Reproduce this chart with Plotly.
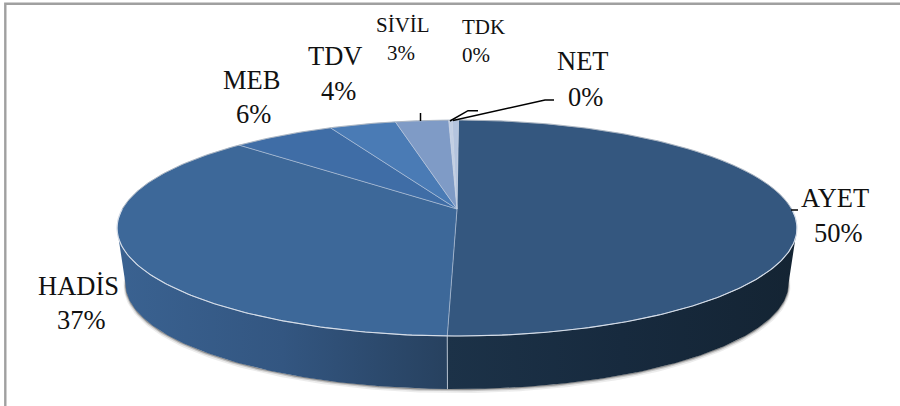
import numpy as np
import plotly.graph_objects as go

categories = ["AYET", "HADİS", "MEB", "TDV", "SİVİL", "TDK", "NET"]
values = [50.3, 36.6, 5.8, 3.75, 3.0, 0.2, 0.35]
pct_labels = ["50%", "37%", "6%", "4%", "3%", "0%", "0%"]

top_colors = ["#34577F", "#3D6899", "#3F6DA6", "#4A7BB5", "#7F9BC6", "#C2CFE4", "#B4C4DE"]

# projection of the 3D pie
CX, CY = 457.0, 209.0
A, B, P = 334.7, 104.7, 0.176
ROT = 0.3
DEPTH, BOTTOM_SCALE = 56.2, 0.975
TANGENT = np.degrees(np.arccos(-P))


def project(theta, scale=1.0, dy=0.0):
    t = np.radians(theta)
    den = 1 + P * np.cos(t)
    return CX + scale * A * np.sin(t) / den, CY + dy - scale * B * np.cos(t) / den


edges = ROT + np.concatenate([[0], np.cumsum(values)]) * 3.6

fig = go.Figure()


def poly(x, y, color=None, line=None, width=0, gradient=None):
    kw = {}
    if gradient:
        kw["fillgradient"] = dict(type="horizontal", colorscale=gradient)
    else:
        kw["fillcolor"] = color
    fig.add_trace(go.Scatter(
        x=x, y=y, mode="lines", fill="toself" if (color or gradient) else "none",
        line=dict(color=line or "rgba(0,0,0,0)", width=width),
        hoverinfo="skip", showlegend=False, **kw))


def side(a0, a1):
    th = np.linspace(a0, a1, 120)
    x0, y0 = project(th)
    x1, y1 = project(th[::-1], BOTTOM_SCALE, DEPTH)
    return np.concatenate([x0, x1]), np.concatenate([y0, y1])


# soft shadow under the side wall
th_sh = np.linspace(TANGENT - 8, 360 - TANGENT + 8, 240)
for off, w, alpha in [(2.0, 4, 0.10), (1.0, 2.5, 0.22), (0.4, 1.2, 0.45)]:
    sx, sy = project(th_sh, BOTTOM_SCALE, DEPTH + off)
    poly(sx, sy, line=f"rgba(70,70,70,{alpha})", width=w)

# side walls of the two big slices
x, y = side(edges[1], TANGENT)
poly(x, y, gradient=[[0, "#1C3248"], [0.5, "#172A3E"], [1, "#142433"]])
x, y = side(edges[1], 360 - TANGENT)
poly(x, y, gradient=[[0, "#3A6291"], [0.5, "#335681"], [1, "#27415F"]])
# seam between the walls
sx0, sy0 = project(np.array([edges[1]]))
sx1, sy1 = project(np.array([edges[1]]), BOTTOM_SCALE, DEPTH)
poly([sx0[0], sx1[0]], [sy0[0], sy1[0]], line="rgba(201,211,224,0.8)", width=1)

# top face
for i, name in enumerate(categories):
    th = np.linspace(edges[i], edges[i + 1], max(3, int((edges[i + 1] - edges[i]) * 2)))
    ax, ay = project(th)
    poly(np.r_[CX, ax, CX], np.r_[CY, ay, CY], color=top_colors[i],
         line="rgba(198,209,226,0.6)", width=0.8)

# brighter rim along the front edge
th = np.linspace(TANGENT - 10, 360 - TANGENT + 10, 240)
rx, ry = project(th)
poly(rx, ry, line="#D5DDE8", width=1.1)
# grey rim along the back edge
th = np.linspace(-TANGENT + 10, TANGENT - 10, 240)
rx, ry = project(th)
poly(rx, ry, line="#A9B2BD", width=0.8)

# leader lines
leaders = [
    ([791, 798], [210, 210]),
    ([420.5, 420.5], [113, 121]),
    ([450, 468, 478], [121, 110.7, 110.7]),
    ([453, 545, 554], [120.5, 100, 100]),
]
for lx, ly in leaders:
    poly(lx, ly, line="#000000", width=1.5)

# labels: name and percentage are separate lines
label_pos = {
    "AYET": ((835, 198), (838, 233), 26.5),
    "HADİS": ((78, 286), (81, 320), 26.5),
    "MEB": ((251, 80), (253, 114), 26.5),
    "TDV": ((335, 56), (338, 91), 26.5),
    "SİVİL": ((403, 25), (401, 53), 21),
    "TDK": ((483, 27), (476, 55), 21),
    "NET": ((583, 61), (585, 97), 26.5),
}
for name, pct in zip(categories, pct_labels):
    p0, p1, size = label_pos[name]
    for txt, (tx, ty) in ((name, p0), (pct, p1)):
        fig.add_annotation(x=tx, y=ty, text=txt, showarrow=False,
                           xanchor="center", yanchor="middle",
                           font=dict(family="Liberation Serif", size=size, color="#111111"))

fig.update_layout(
    width=900, height=406, autosize=False,
    margin=dict(l=0, r=0, t=0, b=0),
    paper_bgcolor="white", plot_bgcolor="white",
    xaxis=dict(range=[0, 900], visible=False, fixedrange=True),
    yaxis=dict(range=[406, 0], visible=False, fixedrange=True),
    shapes=[dict(type="rect", x0=5.3, y0=3.7, x1=912, y1=420,
                 line=dict(color="#A0A0A0", width=2.4), layer="below")],
)

fig.write_html("out.html", config={"displayModeBar": False},
               post_script="document.body.style.margin='0';document.documentElement.style.overflow='hidden';")
